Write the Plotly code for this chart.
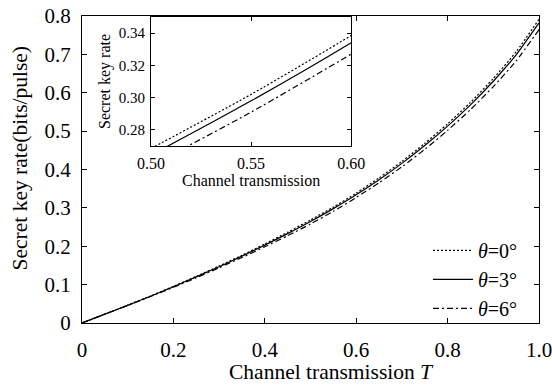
import plotly.graph_objects as go

T = [0.0, 0.05, 0.10, 0.15, 0.20, 0.25, 0.30, 0.35, 0.40, 0.45, 0.50,
     0.55, 0.60, 0.65, 0.70, 0.75, 0.80, 0.85, 0.90, 0.95, 1.00]
rate_0 = [0.0, 0.023, 0.0465, 0.0705, 0.0955, 0.1215, 0.1485, 0.1765, 0.206, 0.2365, 0.2685,
          0.302, 0.3385, 0.378, 0.421, 0.468, 0.519, 0.575, 0.637, 0.707, 0.7915]
rate_3 = [0.0, 0.023, 0.046, 0.0698, 0.0945, 0.1203, 0.1465, 0.1742, 0.203, 0.233, 0.2645,
          0.298, 0.334, 0.3733, 0.416, 0.4625, 0.513, 0.5685, 0.630, 0.699, 0.782]
rate_6 = [0.0, 0.023, 0.0455, 0.069, 0.093, 0.118, 0.144, 0.1705, 0.1985, 0.2275, 0.258,
          0.291, 0.327, 0.3655, 0.407, 0.4525, 0.502, 0.556, 0.616, 0.683, 0.7645]
names = ["<i>θ</i>=0°", "<i>θ</i>=3°", "<i>θ</i>=6°"]
dashes = ["2px,2px", "solid", "6px,3px,2px,3px"]

x_ticks = [0, 0.2, 0.4, 0.6, 0.8, 1.0]
x_ticktext = ["0", "0.2", "0.4", "0.6", "0.8", "1.0"]
y_ticks = [0, 0.1, 0.2, 0.3, 0.4, 0.5, 0.6, 0.7, 0.8]
y_ticktext = ["0", "0.1", "0.2", "0.3", "0.4", "0.5", "0.6", "0.7", "0.8"]
ix_ticks = [0.50, 0.55, 0.60]
ix_ticktext = ["0.50", "0.55", "0.60"]
iy_ticks = [0.28, 0.30, 0.32, 0.34]
iy_ticktext = ["0.28", "0.30", "0.32", "0.34"]

FONT = "Liberation Serif"
fig = go.Figure()
series = [rate_0, rate_3, rate_6]
for ys, nm, ds in zip(series, names, dashes):
    fig.add_trace(go.Scatter(x=T, y=ys, mode="lines", name=nm, line_shape="spline",
                             line=dict(color="black", width=1.2, dash=ds, smoothing=0.6),
                             xaxis="x", yaxis="y"))
for ys, ds in zip(series, dashes):
    fig.add_trace(go.Scatter(x=T, y=ys, mode="lines", showlegend=False, line_shape="spline",
                             line=dict(color="black", width=1.2, dash=ds, smoothing=0.6),
                             xaxis="x2", yaxis="y2"))

axis_common = dict(showgrid=False, zeroline=False, showline=True, linecolor="black",
                   linewidth=1, mirror="ticks", ticks="inside", tickcolor="black",
                   tickwidth=1, automargin=False, ticklabeloverflow="allow")

fig.update_layout(
    width=552, height=385,
    margin=dict(l=82, r=13, t=16, b=62),
    paper_bgcolor="white", plot_bgcolor="white",
    font=dict(family=FONT, color="black", size=20),
    xaxis=dict(domain=[0, 1], range=[0, 1], tickvals=x_ticks, ticktext=x_ticktext,
               ticklen=5, tickfont=dict(size=21), ticklabelstandoff=8,
               **axis_common),
    yaxis=dict(domain=[0, 1], range=[0, 0.8], tickvals=y_ticks, ticktext=y_ticktext,
               ticklen=5, tickfont=dict(size=21), ticklabelstandoff=6,
               **axis_common),
    xaxis2=dict(domain=[0.151, 0.589], range=[0.50, 0.60], anchor="y2",
                tickvals=ix_ticks, ticktext=ix_ticktext, ticklen=4,
                tickfont=dict(size=16), ticklabelstandoff=3,
                title=dict(text="Channel transmission", font=dict(size=16), standoff=2),
                **axis_common),
    yaxis2=dict(domain=[0.5765, 0.997], range=[0.27, 0.35], anchor="x2",
                tickvals=iy_ticks, ticktext=iy_ticktext, ticklen=4,
                tickfont=dict(size=15), ticklabelstandoff=2,
                title=dict(text="Secret key rate", font=dict(size=16), standoff=4),
                **axis_common),
    legend=dict(x=0.965, y=0.3, xanchor="right", yanchor="top",
                bgcolor="rgba(0,0,0,0)", borderwidth=0,
                font=dict(size=20, family=FONT), itemwidth=40,
                tracegroupgap=0),
    showlegend=True,
    annotations=[
        dict(text="Channel transmission <i>T</i>", xref="paper", yref="paper",
             x=0.546, y=-0.16, xanchor="center", yanchor="middle", showarrow=False,
             font=dict(size=21.5, family=FONT)),
        dict(text="Secret key rate(bits/pulse)", xref="paper", yref="paper",
             x=-0.135, y=0.537, xanchor="center", yanchor="middle", showarrow=False,
             textangle=-90, font=dict(size=21.5, family=FONT)),
    ],
)
fig.write_html("out.html")
